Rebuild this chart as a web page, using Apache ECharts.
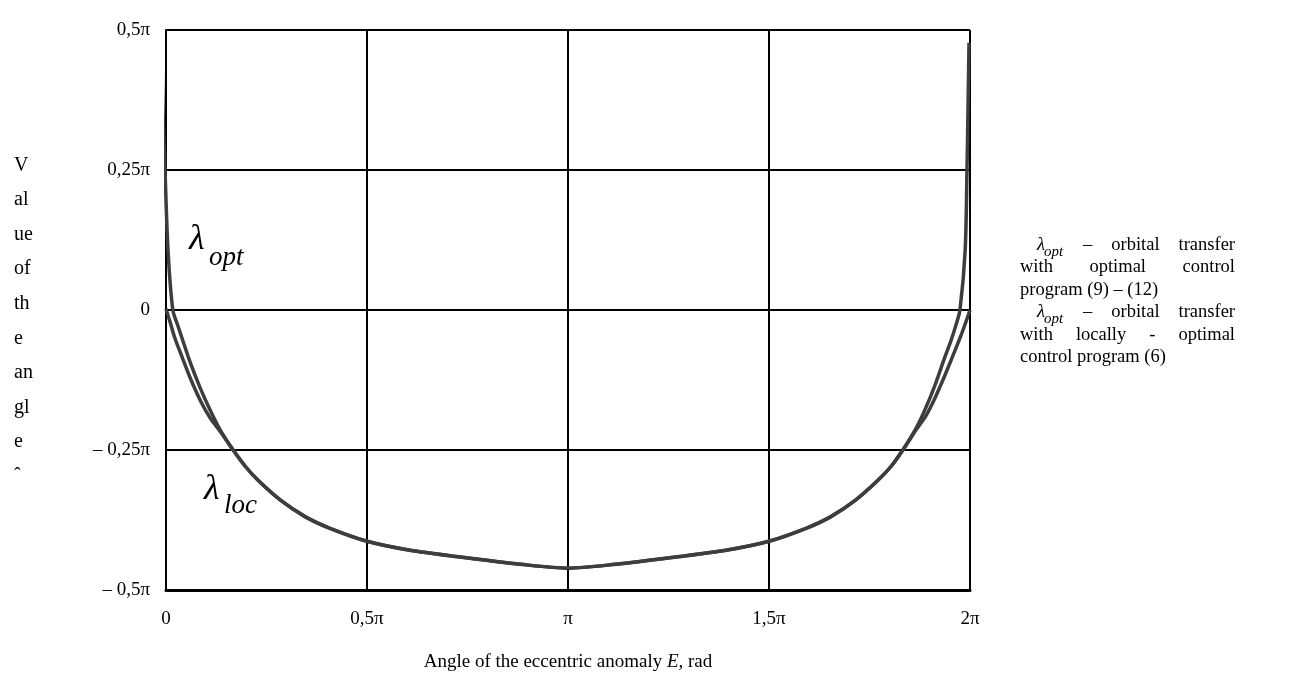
<!DOCTYPE html>
<html>
<head>
<meta charset="utf-8">
<script src="https://cdn.jsdelivr.net/npm/echarts@6/dist/echarts.min.js"></script>
<style>
  html, body { margin: 0; padding: 0; background: #fff; }
  #chart { width: 1296px; height: 684px; }
</style>
</head>
<body>
<div id="chart"></div>
<script>
// Axis ticks (all angles expressed in units of π)
const xTickValues = [0, 0.5, 1, 1.5, 2];
const xTickLabels = ['0', '0,5π', 'π', '1,5π', '2π'];
const yTickValues = [-0.5, -0.25, 0, 0.25, 0.5];
const yTickLabels = ['– 0,5π', '– 0,25π', '0', '0,25π', '0,5π'];

// λ_opt: optimal control program, E (×π) and λ (×π)
const optE = [
  -0.010, -0.0075, -0.0025, 0.005, 0.017, 0.030, 0.042, 0.060, 0.085, 0.110, 0.134, 0.167,
  0.197, 0.229, 0.284, 0.346, 0.408, 0.500, 0.607, 0.731, 0.881, 1.000,
  1.119, 1.269, 1.393, 1.500, 1.592, 1.654, 1.716, 1.771, 1.804, 1.833,
  1.866, 1.891, 1.913, 1.935, 1.953, 1.965, 1.975, 1.988, 1.9925, 1.995, 1.9975
];
const optLambda = [
  0.459, 0.357, 0.250, 0.107, 0.000, -0.029, -0.055, -0.093, -0.139, -0.179, -0.213, -0.250,
  -0.279, -0.304, -0.339, -0.369, -0.390, -0.413, -0.429, -0.441, -0.454, -0.461,
  -0.454, -0.441, -0.429, -0.413, -0.390, -0.369, -0.339, -0.304, -0.279, -0.250,
  -0.211, -0.173, -0.134, -0.089, -0.054, -0.027, 0.000, 0.107, 0.250, 0.357, 0.477
];

// λ_loc: locally-optimal control program
const locE = [
  0.000, 0.010, 0.022, 0.040, 0.060, 0.085, 0.110, 0.134, 0.167,
  0.197, 0.229, 0.284, 0.346, 0.408, 0.500, 0.607, 0.731, 0.881, 1.000,
  1.119, 1.269, 1.393, 1.500, 1.592, 1.654, 1.716, 1.771, 1.804, 1.833,
  1.866, 1.891, 1.913, 1.935, 1.955, 1.973, 1.988, 2.000
];
const locLambda = [
  0.002, -0.021, -0.050, -0.084, -0.121, -0.161, -0.193, -0.216, -0.250,
  -0.279, -0.304, -0.339, -0.369, -0.390, -0.413, -0.429, -0.441, -0.454, -0.461,
  -0.454, -0.441, -0.429, -0.413, -0.390, -0.369, -0.339, -0.304, -0.279, -0.250,
  -0.214, -0.188, -0.157, -0.121, -0.086, -0.054, -0.025, 0.000
];

const SERIF = "'Liberation Serif', 'Times New Roman', serif";
const CURVE = '#3d3d3d';

function pairs(xs, ys) { return xs.map((x, i) => [x, ys[i]]); }
function tickLabel(values, labels) {
  return v => {
    const i = values.findIndex(t => Math.abs(t - v) < 1e-9);
    return i >= 0 ? labels[i] : '';
  };
}

const chart = echarts.init(document.getElementById('chart'), null, { renderer: 'canvas' });

// Text measuring for the justified caption block on the right
const measureCtx = document.createElement('canvas').getContext('2d');
function textWidth(str, size, italic) {
  measureCtx.font = (italic ? 'italic ' : '') + size + 'px ' + SERIF;
  return measureCtx.measureText(str).width;
}

const CAP_SIZE = 18.5, CAP_SUB = 15;
const CAP_LEFT = 1020, CAP_RIGHT = 1235, CAP_TOP = 245, CAP_STEP = 22.5;
const captionLines = [
  { indent: 17, justify: true,  words: ['@lambda', '–', 'orbital', 'transfer'] },
  { indent: 0,  justify: true,  words: ['with', 'optimal', 'control'] },
  { indent: 0,  justify: false, words: ['program (9) – (12)'] },
  { indent: 17, justify: true,  words: ['@lambda', '–', 'orbital', 'transfer'] },
  { indent: 0,  justify: true,  words: ['with', 'locally', '-', 'optimal'] },
  { indent: 0,  justify: false, words: ['control program (6)'] }
];

function lambdaWidth(big, small, sub) {
  return textWidth('λ', big, true) + textWidth(sub, small, true);
}

function lambdaLabel(x, y, big, small, sub, subDx, subDy) {
  return [
    { type: 'text', x: x, y: y, style: { text: 'λ', font: 'italic ' + big + 'px ' + SERIF, fill: '#000', textVerticalAlign: 'middle' } },
    { type: 'text', x: x + subDx, y: y + subDy, style: { text: sub, font: 'italic ' + small + 'px ' + SERIF, fill: '#000', textVerticalAlign: 'middle' } }
  ];
}

const captionEls = [];
captionLines.forEach((line, li) => {
  const y = CAP_TOP + li * CAP_STEP;
  const left = CAP_LEFT + line.indent;
  const widths = line.words.map(w => w === '@lambda' ? lambdaWidth(CAP_SIZE, CAP_SUB, 'opt') : textWidth(w, CAP_SIZE, false));
  const total = widths.reduce((a, b) => a + b, 0);
  const gap = line.justify && line.words.length > 1
    ? (CAP_RIGHT - left - total) / (line.words.length - 1)
    : 0;
  let x = left;
  line.words.forEach((w, wi) => {
    if (w === '@lambda') {
      captionEls.push(...lambdaLabel(x, y, CAP_SIZE, CAP_SUB, 'opt', textWidth('λ', CAP_SIZE, true) - 1, 7));
    } else {
      captionEls.push({ type: 'text', x: x, y: y, style: { text: w, font: CAP_SIZE + 'px ' + SERIF, fill: '#000', textVerticalAlign: 'middle' } });
    }
    x += widths[wi] + gap;
  });
});

const option = {
  backgroundColor: '#ffffff',
  animation: false,
  grid: { left: 166, right: 326, top: 30, bottom: 94, containLabel: false },
  xAxis: {
    type: 'value', min: 0, max: 2, interval: 0.5,
    axisLine: { show: true, onZero: false, lineStyle: { color: '#000', width: 3 } },
    axisTick: { show: false },
    splitLine: { show: true, lineStyle: { color: '#000', width: 2 } },
    axisLabel: { formatter: tickLabel(xTickValues, xTickLabels), color: '#000', fontFamily: SERIF, fontSize: 19, margin: 20 }
  },
  yAxis: {
    type: 'value', min: -0.5, max: 0.5, interval: 0.25,
    axisLine: { show: true, onZero: false, lineStyle: { color: '#000', width: 2 } },
    axisTick: { show: false },
    splitLine: { show: true, lineStyle: { color: '#000', width: 2 } },
    axisLabel: { formatter: tickLabel(yTickValues, yTickLabels), color: '#000', fontFamily: SERIF, fontSize: 19, margin: 16 }
  },
  series: [
    {
      name: 'λopt', type: 'line', data: pairs(optE, optLambda),
      showSymbol: false, smooth: 0.3, clip: false,
      lineStyle: { color: CURVE, width: 3.5 }
    },
    {
      name: 'λloc', type: 'line', data: pairs(locE, locLambda),
      showSymbol: false, smooth: 0.3, clip: false,
      lineStyle: { color: CURVE, width: 3.5 }
    }
  ],
  graphic: [
    // vertical axis title, wrapped into a narrow column
    {
      type: 'text', left: 14, top: 148,
      style: { text: 'V\nal\nue\nof\nth\ne\nan\ngl\ne\nˆ', font: '20px ' + SERIF, fill: '#000', lineHeight: 34.6 }
    },
    // horizontal axis title
    {
      type: 'text', x: 568, y: 662,
      style: {
        text: '{n|Angle of the eccentric anomaly }{i|E,}{n| rad}',
        textAlign: 'center', textVerticalAlign: 'middle',
        rich: {
          n: { fontFamily: SERIF, fontSize: 19, color: '#000' },
          i: { fontFamily: SERIF, fontSize: 19, fontStyle: 'italic', color: '#000' }
        }
      }
    },
    ...lambdaLabel(189, 240, 36, 27, 'opt', 20, 18),
    ...lambdaLabel(204, 490, 36, 27, 'loc', 20, 16),
    ...captionEls
  ]
};

chart.setOption(option);
</script>
</body>
</html>
